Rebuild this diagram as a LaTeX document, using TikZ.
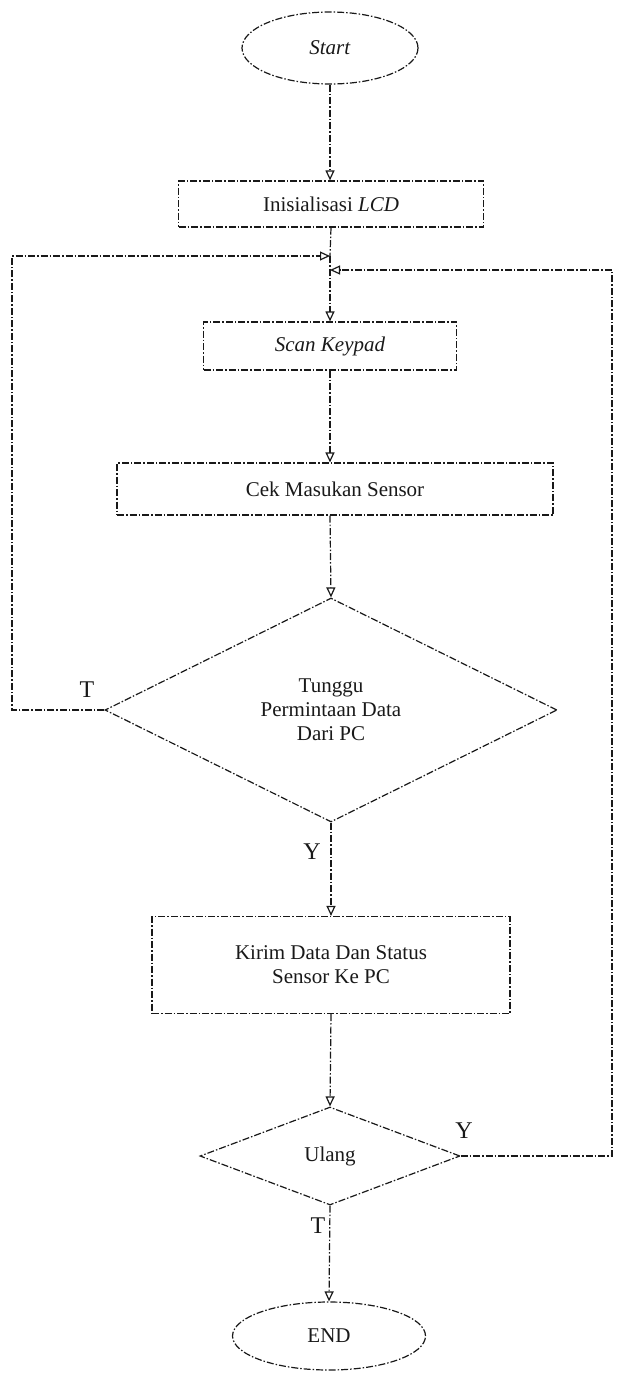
\documentclass[tikz,border=0pt]{standalone}
\usepackage{fontspec}
\setmainfont{Liberation Serif}
\usetikzlibrary{shapes.geometric,arrows.meta}
\begin{document}
\begin{tikzpicture}[x=1pt,y=-1pt,
  line/.style={draw=black!90,line width=1.2pt,dash pattern=on 7pt off 2pt on 1.5pt off 2pt},
  flow/.style={line,-{Triangle[open,length=10pt,width=9pt,line width=1.2pt]}},
  txt/.style={font=\fontsize{21}{24}\selectfont,text=black!90,align=center},
  term/.style={ellipse,line,txt,inner sep=0pt},
  proc/.style={rectangle,line,txt,inner sep=0pt},
  dec/.style={diamond,line,txt,inner sep=0pt},
  lab/.style={font=\fontsize{24}{26}\selectfont,text=black!90,inner sep=0pt}]
\useasboundingbox (0,0) rectangle (623,1387);

% terminals, process boxes and decisions
\node[term,minimum width=176pt,minimum height=72pt] (start) at (330,48) {\textit{Start}};
\node[proc,minimum width=305pt,minimum height=46pt] (init) at (331,204) {Inisialisasi \textit{LCD}};
\node[proc,minimum width=253pt,minimum height=48pt] (scan) at (330,346) {\textit{Scan Keypad}};
\node[proc,minimum width=436pt,minimum height=52pt] (cek) at (335,489) {Cek Masukan Sensor};
\node[dec,minimum width=452pt,minimum height=224pt] (wait) at (331,710) {Tunggu\\Permintaan Data\\Dari PC};
\node[proc,minimum width=358pt,minimum height=97pt] (kirim) at (331,965) {Kirim Data Dan Status\\Sensor Ke PC};
\node[dec,minimum width=260pt,minimum height=98pt] (ulang) at (330,1156) {Ulang};
\node[term,minimum width=193pt,minimum height=68pt] (end) at (329,1336) {END};

% corners of the two return loops
\coordinate (lcorner) at (12,256);
\coordinate (ljoin) at (330,256);
\coordinate (rcorner) at (612,270);
\coordinate (rjoin) at (330,270);

% main flow
\draw[flow] (start.south) -- (start.south |- init.north);
\draw[line] (init.south) -- (ljoin);
\draw[flow] (ljoin) -- (scan.north);
\draw[flow] (scan.south) -- (scan.south |- cek.north);
\draw[flow] (scan.south |- cek.south) -- (wait.north);
\draw[flow] (wait.south) -- (kirim.north);
\draw[flow] (kirim.south) -- (ulang.north);
\draw[flow] (ulang.south) -- (end.north);

% return loops
\draw[flow] (wait.west) -| (lcorner) -- (ljoin);
\draw[flow] (ulang.east) -| (rcorner) -- (rjoin);

% branch labels
\node[lab] (tno) at (87,690) {T};
\node[lab] (yyes) at (312,852) {Y};
\node[lab] (yrep) at (464,1131) {Y};
\node[lab] (tend) at (318,1226) {T};
\end{tikzpicture}
\end{document}
